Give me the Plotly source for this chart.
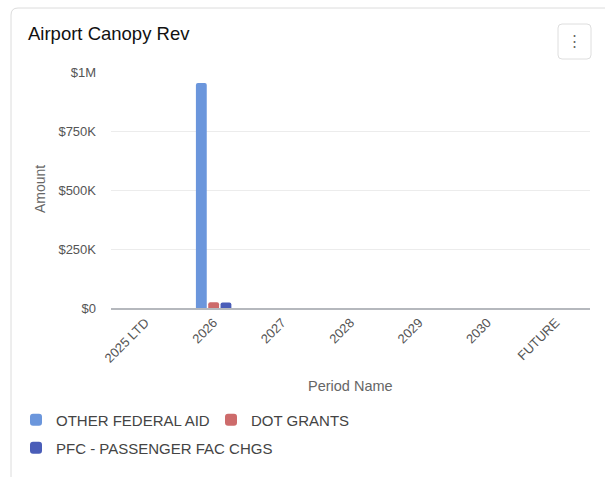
import plotly.graph_objects as go

# Capital funding sources by period
periods = ["2025 LTD", "2026", "2027", "2028", "2029", "2030", "FUTURE"]
other_federal_aid = [0, 953000, 0, 0, 0, 0, 0]
dot_grants = [0, 24000, 0, 0, 0, 0, 0]
pfc_passenger_fac_chgs = [0, 23000, 0, 0, 0, 0, 0]

tick_values = [0, 250000, 500000, 750000, 1000000]
tick_labels = ["$0", "$250K", "$500K", "$750K", "$1M"]

# name, values, colour, legend row
series = [
    ("OTHER FEDERAL AID", other_federal_aid, "#6b96dc", "legend"),
    ("DOT GRANTS", dot_grants, "#cd6b6b", "legend"),
    ("PFC - PASSENGER FAC CHGS", pfc_passenger_fac_chgs, "#4a5db8", "legend2"),
]

W, H = 605, 477
L, R, T, B = 111, 15, 72, 169
PW, PH = W - L - R, H - T - B


def px_x(x):
    return (x - L) / PW


def px_y(y):
    return (H - B - y) / PH


fig = go.Figure()
for name, vals, color, leg in series:
    fig.add_trace(go.Bar(x=periods, y=vals, name=name, marker_color=color,
                         marker_line_width=0, legend=leg))

font = "Liberation Sans, Arial, Helvetica, sans-serif"

# card outline and menu button
card = (f"M {px_x(11)} {px_y(480)} L {px_x(11)} {px_y(15)} "
        f"Q {px_x(11)} {px_y(8)} {px_x(18)} {px_y(8)} L {px_x(620)} {px_y(8)}")
x0, x1, y0, y1 = px_x(558), px_x(591), px_y(24), px_y(59)
rx, ry = 4 / PW, 4 / PH
btn = (f"M {x0 + rx} {y0} L {x1 - rx} {y0} Q {x1} {y0} {x1} {y0 - ry} "
       f"L {x1} {y1 + ry} Q {x1} {y1} {x1 - rx} {y1} L {x0 + rx} {y1} "
       f"Q {x0} {y1} {x0} {y1 + ry} L {x0} {y0 - ry} Q {x0} {y0} {x0 + rx} {y0} Z")

legend_style = dict(orientation="h", xref="container", yref="container",
                    xanchor="left", yanchor="middle",
                    font=dict(size=15, color="#444", family=font),
                    traceorder="normal")

fig.update_layout(
    width=W, height=H,
    margin=dict(l=L, r=R, t=T, b=B),
    paper_bgcolor="white", plot_bgcolor="white",
    font=dict(family=font, color="#666", size=13),
    barmode="group", bargap=0.46, bargroupgap=0.12,
    barcornerradius=2,
    showlegend=True,
    legend=dict(legend_style, x=16 / W, y=1 - 420 / H, entrywidth=150),
    legend2=dict(legend_style, x=16 / W, y=1 - 448 / H, entrywidth=0),
    shapes=[
        dict(type="path", path=card, xref="paper", yref="paper",
             line=dict(color="#dcdcdc", width=1), layer="below"),
        dict(type="path", path=btn, xref="paper", yref="paper",
             line=dict(color="#dedede", width=1), fillcolor="white"),
    ],
    annotations=[
        dict(text="Airport Canopy Rev", xref="paper", yref="paper",
             x=px_x(26), y=px_y(33), xanchor="left", yanchor="middle",
             showarrow=False, font=dict(size=18.5, color="#111", family=font)),
        dict(text="⋮", xref="paper", yref="paper",
             x=px_x(574.5), y=px_y(41), xanchor="center", yanchor="middle",
             showarrow=False, font=dict(size=15, color="#666", family=font)),
        dict(text="Amount", xref="paper", yref="paper", textangle=-90,
             x=px_x(40), y=px_y(189), xanchor="center", yanchor="middle",
             showarrow=False, font=dict(size=14, color="#666", family=font)),
        dict(text="Period Name", xref="paper", yref="paper",
             x=px_x(350), y=px_y(386), xanchor="center", yanchor="middle",
             showarrow=False, font=dict(size=14.5, color="#666", family=font)),
    ],
)

fig.update_xaxes(type="category", tickangle=-45, showgrid=False,
                 showline=True, linecolor="#b5b8bd", linewidth=2,
                 ticks="", tickfont=dict(size=13, color="#555"))
fig.update_yaxes(range=[0, 1000000], tickvals=tick_values, ticktext=tick_labels,
                 showgrid=True, gridcolor="#ececec", gridwidth=1,
                 zeroline=False, showline=False, ticks="",
                 ticklabelstandoff=14, tickfont=dict(size=13, color="#555"))

fig.write_html("out.html")
